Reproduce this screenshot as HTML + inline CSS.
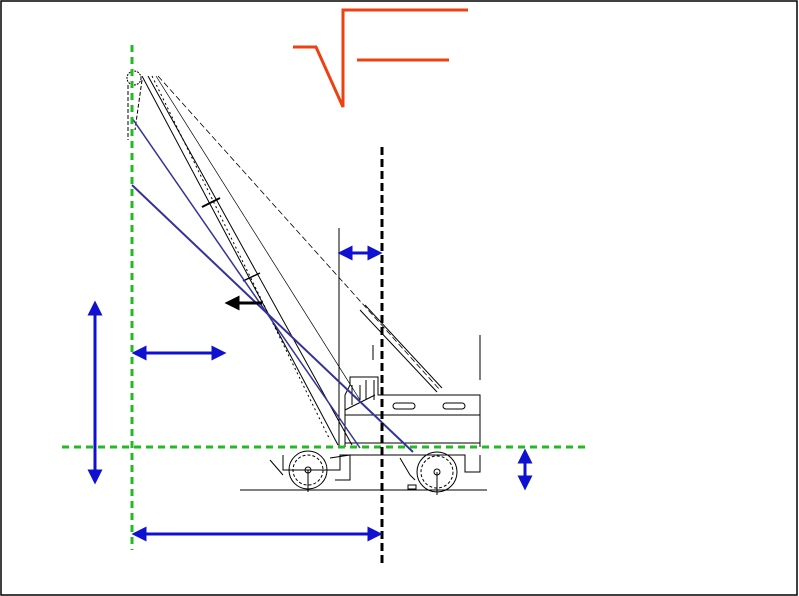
<!DOCTYPE html>
<html><head><meta charset="utf-8"><style>html,body{margin:0;padding:0;background:#fff}svg{display:block}</style></head>
<body>
<svg width="799" height="596" viewBox="0 0 799 596" xmlns="http://www.w3.org/2000/svg">
<defs>
<marker id="ab" viewBox="0 0 10 10" refX="5" refY="5" markerWidth="5" markerHeight="5" orient="auto-start-reverse"><path d="M0,0L10,5L0,10z" fill="#1010d0"/></marker>
<marker id="ak" viewBox="0 0 10 10" refX="5" refY="5" markerWidth="5" markerHeight="5" orient="auto-start-reverse"><path d="M0,0L10,5L0,10z" fill="#000"/></marker>
</defs>
<rect x="1" y="1" width="796" height="594" fill="#fff" stroke="#000" stroke-width="1.5"/>
<polyline points="293,47 316,47 343,107 343,10 468,10" fill="none" stroke="#ee4010" stroke-width="3"/>
<line x1="357" y1="60" x2="449" y2="60" stroke="#ee4010" stroke-width="3"/>
<g stroke="#000" fill="none" stroke-width="1">
<line x1="142" y1="76" x2="338" y2="445"/>
<line x1="148" y1="76" x2="352" y2="445"/>
<line x1="152" y1="76" x2="330" y2="440" stroke-dasharray="2,3"/>
<line x1="156" y1="76" x2="360" y2="400" stroke-width="0.7"/>
<line x1="158" y1="76" x2="440" y2="390" stroke-dasharray="6,3" stroke-width="0.8"/>
<line x1="360" y1="310" x2="437" y2="392"/>
<line x1="365" y1="305" x2="442" y2="388"/>
<line x1="202" y1="207" x2="220" y2="198" stroke-width="2"/>
<line x1="243" y1="281" x2="260" y2="273" stroke-width="1.5"/>
<circle cx="134" cy="78" r="7" stroke-dasharray="2,1"/>
<path d="M128,85 L128,140 M142,80 L135,130" stroke-dasharray="4,2"/>
<line x1="339" y1="228" x2="339" y2="447"/>
<line x1="480" y1="335" x2="480" y2="380"/>
<line x1="373" y1="345" x2="373" y2="360"/>
<path d="M345,447 L345,395 L350,385 L350,377 L378,377 L378,395 L480,395 L480,420 L480,447"/>
<path d="M345,410 L375,395 M345,415 L480,415 M345,443 L480,443"/>
<path d="M352,385 L352,405 M360,385 L360,400 M366,380 L366,400 M374,380 L374,400"/>
<rect x="393" y="403" width="22" height="6" rx="3"/>
<rect x="443" y="403" width="22" height="6" rx="3"/>
<path d="M283,455 L283,470 L340,470 L340,455 L465,455 L465,472 L480,472 L480,455"/>
<path d="M330,458 L350,455 L350,480 L335,480 M400,458 L410,475 L415,480 M270,460 L283,475"/>
<circle cx="308" cy="470" r="19"/>
<circle cx="308" cy="470" r="15" stroke-dasharray="3,2"/>
<circle cx="308" cy="470" r="3"/>
<circle cx="437" cy="472" r="20"/>
<circle cx="437" cy="472" r="16" stroke-dasharray="3,2"/>
<circle cx="437" cy="472" r="3"/>
<line x1="308" y1="470" x2="308" y2="492"/>
<line x1="437" y1="472" x2="437" y2="495"/>
<line x1="240" y1="490" x2="487" y2="490"/>
<rect x="408" y="485" width="8" height="4"/>
</g>
<line x1="132" y1="185" x2="413" y2="452" stroke="#333399" stroke-width="2"/>
<line x1="132" y1="118" x2="360" y2="448" stroke="#333399" stroke-width="1.5"/>
<line x1="132" y1="45" x2="132" y2="550" stroke="#22bb22" stroke-width="3" stroke-dasharray="7,5"/>
<line x1="62" y1="447" x2="585" y2="447" stroke="#22bb22" stroke-width="3" stroke-dasharray="7,5"/>
<line x1="382" y1="147" x2="382" y2="565" stroke="#000" stroke-width="3" stroke-dasharray="8,4"/>
<g stroke="#1010d0" stroke-width="3" marker-start="url(#ab)" marker-end="url(#ab)">
<line x1="95" y1="308" x2="95" y2="477"/>
<line x1="139" y1="353" x2="219" y2="353"/>
<line x1="345" y1="253" x2="375" y2="253"/>
<line x1="525" y1="456" x2="525" y2="483"/>
<line x1="139" y1="534" x2="375" y2="534"/>
</g>
<line x1="232" y1="303" x2="262" y2="303" stroke="#000" stroke-width="3" marker-start="url(#ak)"/>
</svg>
</body></html>
